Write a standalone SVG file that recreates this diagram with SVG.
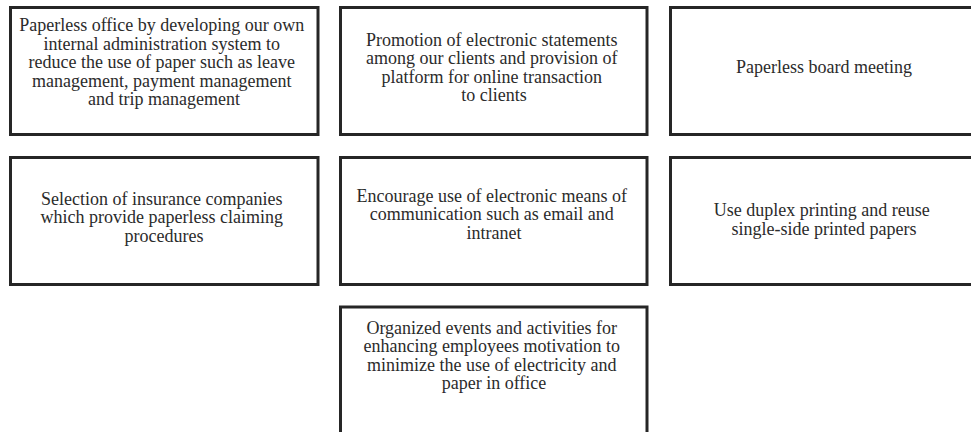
<svg xmlns="http://www.w3.org/2000/svg" width="971" height="432" viewBox="0 0 971 432">
  <style>
    .box { fill: #ffffff; stroke: #262626; stroke-width: 3; }
    .label { font-family: "Liberation Serif", "Times New Roman", serif; font-size: 18px; fill: #2b2b2b; text-anchor: middle; }
  </style>
  <rect width="971" height="432" fill="#ffffff"/>
  <g id="connectors"></g>

  <g id="node-paperless-office">
    <rect class="box" x="10.5" y="7.5" width="307.5" height="127"/>
    <text class="label">
      <tspan x="164" y="31">Paperless office by developing our own</tspan>
      <tspan x="164" y="49.5">internal administration system to</tspan>
      <tspan x="164" y="68">reduce the use of paper such as leave</tspan>
      <tspan x="164" y="86.5">management, payment management</tspan>
      <tspan x="164" y="105">and trip management</tspan>
    </text>
  </g>

  <g id="node-electronic-statements">
    <rect class="box" x="340.5" y="7.5" width="306.5" height="127"/>
    <text class="label">
      <tspan x="494" y="45.5">Promotion of electronic statements</tspan>
      <tspan x="494" y="64">among our clients and provision of</tspan>
      <tspan x="494" y="82.5">platform for online transaction</tspan>
      <tspan x="494" y="101">to clients</tspan>
    </text>
  </g>

  <g id="node-board-meeting">
    <rect class="box" x="670.5" y="7.5" width="307" height="127"/>
    <text class="label">
      <tspan x="824" y="73">Paperless board meeting</tspan>
    </text>
  </g>

  <g id="node-insurance">
    <rect class="box" x="10.5" y="157.5" width="307.5" height="127"/>
    <text class="label">
      <tspan x="164" y="204.5">Selection of insurance companies</tspan>
      <tspan x="164" y="223">which provide paperless claiming</tspan>
      <tspan x="164" y="241.5">procedures</tspan>
    </text>
  </g>

  <g id="node-electronic-communication">
    <rect class="box" x="340.5" y="157.5" width="306.5" height="127"/>
    <text class="label">
      <tspan x="494" y="201.5">Encourage use of electronic means of</tspan>
      <tspan x="494" y="220">communication such as email and</tspan>
      <tspan x="494" y="238.5">intranet</tspan>
    </text>
  </g>

  <g id="node-duplex-printing">
    <rect class="box" x="670.5" y="157.5" width="307" height="127"/>
    <text class="label">
      <tspan x="824" y="216">Use duplex printing and reuse</tspan>
      <tspan x="824" y="234.5">single-side printed papers</tspan>
    </text>
  </g>

  <g id="node-employee-events">
    <rect class="box" x="340.5" y="307" width="306.5" height="132"/>
    <text class="label">
      <tspan x="494" y="333.5">Organized events and activities for</tspan>
      <tspan x="494" y="352">enhancing employees motivation to</tspan>
      <tspan x="494" y="370.5">minimize the use of electricity and</tspan>
      <tspan x="494" y="389">paper in office</tspan>
    </text>
  </g>
</svg>
